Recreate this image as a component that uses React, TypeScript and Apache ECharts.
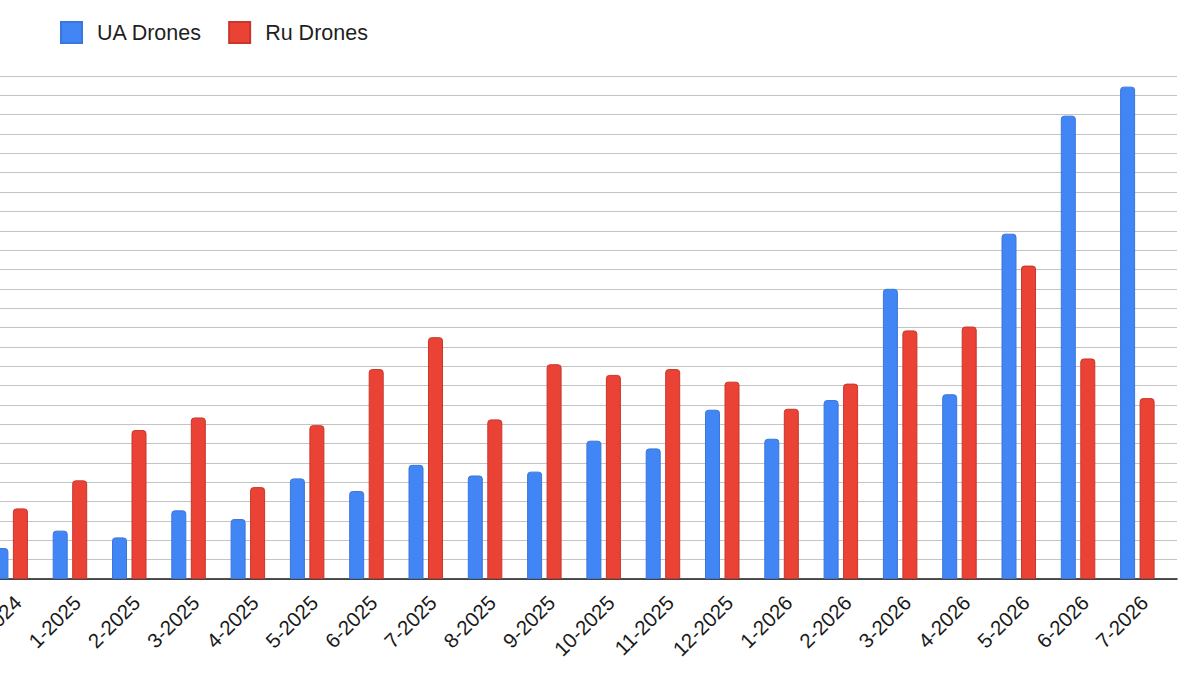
import React, { useEffect, useRef } from 'react';
import * as echarts from 'echarts';

// month labels on the category axis (first one is cut off at the left edge)
const months = [
  '12-2024',
  '1-2025', '2-2025', '3-2025', '4-2025', '5-2025', '6-2025',
  '7-2025', '8-2025', '9-2025', '10-2025', '11-2025', '12-2025',
  '1-2026', '2-2026', '3-2026', '4-2026', '5-2026', '6-2026', '7-2026',
];

// values read in gridline units (one gridline = 1), y labels are cropped off
const uaDrones = [
  1.6, 2.5, 2.15, 3.55, 3.1, 5.2, 4.55, 5.9, 5.35, 5.55,
  7.15, 6.75, 8.75, 7.25, 9.25, 15.0, 9.55, 17.85, 23.95, 25.45,
];
const ruDrones = [
  3.65, 5.1, 7.7, 8.35, 4.75, 7.95, 10.85, 12.5, 8.25, 11.1,
  10.55, 10.85, 10.2, 8.8, 10.1, 12.85, 13.05, 16.2, 11.4, 9.35,
];

const yMax = 26;
const yStep = 1;

export default function App() {
  const chartRef = useRef<HTMLDivElement>(null);

  useEffect(() => {
    if (!chartRef.current) return;
    const chart = echarts.init(chartRef.current, null, { renderer: 'svg' });
    const font = '"Liberation Sans", Arial, Helvetica, sans-serif';

    const option = {
      animation: false,
      backgroundColor: '#ffffff',
      textStyle: { fontFamily: font },
      legend: {
        data: ['UA Drones', 'Ru Drones'],
        left: 60,
        top: 21,
        padding: 0,
        icon: 'rect',
        itemWidth: 21,
        itemHeight: 21,
        itemGap: 26,
        textStyle: {
          fontSize: 21.5,
          color: '#1f1f1f',
          fontFamily: font,
          padding: [0, 0, 0, 10],
        },
      },
      grid: [
        // gridlines + baseline
        { left: -19, right: 23, top: 76, height: 503, outerBoundsMode: 'none' },
        // bars
        { left: -19, top: 76, width: 1186, height: 503, outerBoundsMode: 'none' },
        // month labels (sit a little right of the bar groups)
        { left: -12, top: 76, width: 1186, height: 503, outerBoundsMode: 'none' },
      ],
      xAxis: [
        {
          gridIndex: 0,
          type: 'category',
          data: months,
          axisLine: { show: true, lineStyle: { color: '#1a1a1a', width: 1.5 } },
          axisTick: { show: false },
          axisLabel: { show: false },
          splitLine: { show: false },
        },
        {
          gridIndex: 1,
          type: 'category',
          data: months,
          show: false,
        },
        {
          gridIndex: 2,
          type: 'category',
          data: months,
          axisLine: { show: false },
          axisTick: { show: false },
          splitLine: { show: false },
          axisLabel: {
            interval: 0,
            rotate: 45,
            margin: 20,
            fontSize: 20.5,
            color: '#1a1a1a',
            fontFamily: font,
          },
        },
      ],
      yAxis: [
        {
          gridIndex: 0,
          type: 'value',
          min: 0,
          max: yMax,
          interval: yStep,
          axisLine: { show: false },
          axisTick: { show: false },
          axisLabel: { show: false },
          splitLine: { show: true, lineStyle: { color: '#c4c4c4', width: 1 } },
        },
        { gridIndex: 1, type: 'value', min: 0, max: yMax, show: false, splitLine: { show: false } },
        { gridIndex: 2, type: 'value', min: 0, max: yMax, show: false, splitLine: { show: false } },
      ],
      series: [
        {
          name: 'UA Drones',
          type: 'bar',
          xAxisIndex: 1,
          yAxisIndex: 1,
          data: uaDrones,
          barWidth: 15,
          barGap: '30%',
          itemStyle: {
            color: '#4285f4',
            borderColor: '#3a76dc',
            borderWidth: 1,
            borderRadius: [3, 3, 0, 0],
          },
        },
        {
          name: 'Ru Drones',
          type: 'bar',
          xAxisIndex: 1,
          yAxisIndex: 1,
          data: ruDrones,
          barWidth: 15,
          barGap: '30%',
          itemStyle: {
            color: '#ea4335',
            borderColor: '#c9362b',
            borderWidth: 1,
            borderRadius: [3, 3, 0, 0],
          },
        },
      ],
    };

    chart.setOption(option);

    return () => {
      chart.dispose();
    };
  }, []);

  return (
    <div
      ref={chartRef}
      style={{ position: 'fixed', left: 0, top: 0, width: 1200, height: 675 }}
    />
  );
}
